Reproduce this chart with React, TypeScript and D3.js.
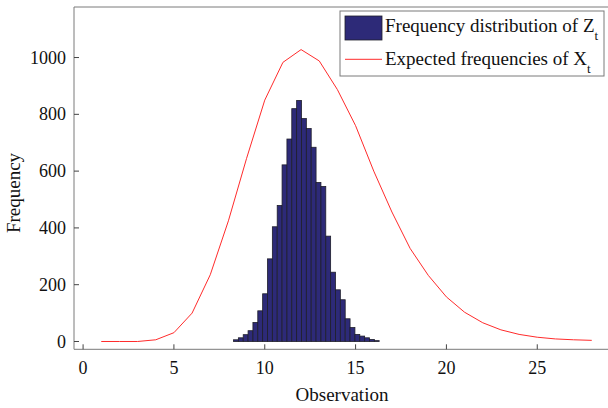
import React from "react";
import * as d3 from "d3";

// Histogram of Z_t: 30 equal bins spanning [binLo, binHi]
const binLo = 8.28;
const binHi = 16.3;
const histCounts = [6, 13, 24, 38, 67, 108, 168, 291, 404, 479, 622, 713, 820, 849, 785, 750, 684, 560, 546, 371, 244, 182, 147, 80, 49, 25, 19, 13, 7, 3];

// Expected frequencies of X_t at observations 1..28
const expX = [1, 2, 3, 4, 5, 6, 7, 8, 9, 10, 11, 12, 13, 14, 15, 16, 17, 18, 19, 20, 21, 22, 23, 24, 25, 26, 27, 28];
const expY = [0, 0, 0, 6, 31, 100, 235, 425, 645, 850, 983, 1028, 988, 887, 760, 600, 456, 328, 233, 157, 103, 66, 41, 25, 15, 9, 6, 4];

const xTicks = [0, 5, 10, 15, 20, 25];
const yTicks = [0, 200, 400, 600, 800, 1000];

const legendLabels = [
  { main: "Frequency distribution of Z", sub: "t" },
  { main: "Expected frequencies of X", sub: "t" },
];

const W = 608;
const H = 408;
const FONT = "'Liberation Serif', 'Times New Roman', serif";
const BAR_FILL = "#2d2a78";
const RED = "#ff2b2b";
const AXIS = "#7a7a7a";

export default function App() {
  const left = 74, right = 619, top = 7, bottom = 349.3;
  const x = d3.scaleLinear().domain([-0.5, 29.5]).range([left, right]);
  const y = d3.scaleLinear().domain([-27.5, 1178]).range([bottom, top]);

  const nb = histCounts.length;
  const bw = (binHi - binLo) / nb;
  const bins = histCounts.map((c, i) => ({ x0: binLo + i * bw, x1: binLo + (i + 1) * bw, c }));

  const line = d3
    .line<number>()
    .x((_, i) => x(expX[i]))
    .y((d) => y(d));

  return (
    <svg
      width={W}
      height={H}
      style={{ position: "absolute", left: 0, top: 0, background: "#fff" }}
      fontFamily={FONT}
    >
      <rect x={0} y={0} width={W} height={H} fill="#fff" />
      {/* histogram */}
      {bins.map((b, i) => (
        <rect
          key={i}
          x={x(b.x0)}
          y={y(b.c)}
          width={x(b.x1) - x(b.x0)}
          height={y(0) - y(b.c)}
          fill={BAR_FILL}
          stroke="#1e1e2a"
          strokeWidth={0.8}
        />
      ))}
      {/* expected curve */}
      <path d={line(expY) || ""} fill="none" stroke={RED} strokeWidth={1} />

      {/* axes */}
      <line x1={left} x2={W} y1={bottom} y2={bottom} stroke={AXIS} strokeWidth={1} />
      <line x1={left} x2={W} y1={top} y2={top} stroke={AXIS} strokeWidth={1} />
      <line x1={left} x2={left} y1={top} y2={bottom} stroke={AXIS} strokeWidth={1} />

      {xTicks.map((t) => (
        <g key={t}>
          <line x1={x(t)} x2={x(t)} y1={bottom} y2={bottom - 5} stroke="#444" strokeWidth={1} />
          <text x={x(t)} y={374} textAnchor="middle" fontSize={18} fill="#111">
            {t}
          </text>
        </g>
      ))}
      {yTicks.map((t) => (
        <g key={t}>
          <line x1={left} x2={left + 5} y1={y(t)} y2={y(t)} stroke="#444" strokeWidth={1} />
          <text x={66} y={y(t)} dy="0.34em" textAnchor="end" fontSize={18} fill="#111">
            {t}
          </text>
        </g>
      ))}

      <text x={342} y={401} textAnchor="middle" fontSize={19} fill="#111">
        Observation
      </text>
      <text
        transform={`translate(20,193) rotate(-90)`}
        textAnchor="middle"
        fontSize={19}
        fill="#111"
      >
        Frequency
      </text>

      {/* legend */}
      <rect x={340} y={11} width={264} height={65} fill="#fff" stroke={AXIS} strokeWidth={1} />
      <rect x={345} y={16} width={37} height={24} fill={BAR_FILL} stroke="#1e1e2a" strokeWidth={0.8} />
      <line x1={345} x2={382} y1={59.3} y2={59.3} stroke={RED} strokeWidth={1} />
      {legendLabels.map((l, i) => (
        <text key={i} x={385} y={i === 0 ? 31.7 : 65} fontSize={19} fill="#111">
          {l.main}
          <tspan fontSize={13} dy={8}>
            {l.sub}
          </tspan>
        </text>
      ))}
    </svg>
  );
}
